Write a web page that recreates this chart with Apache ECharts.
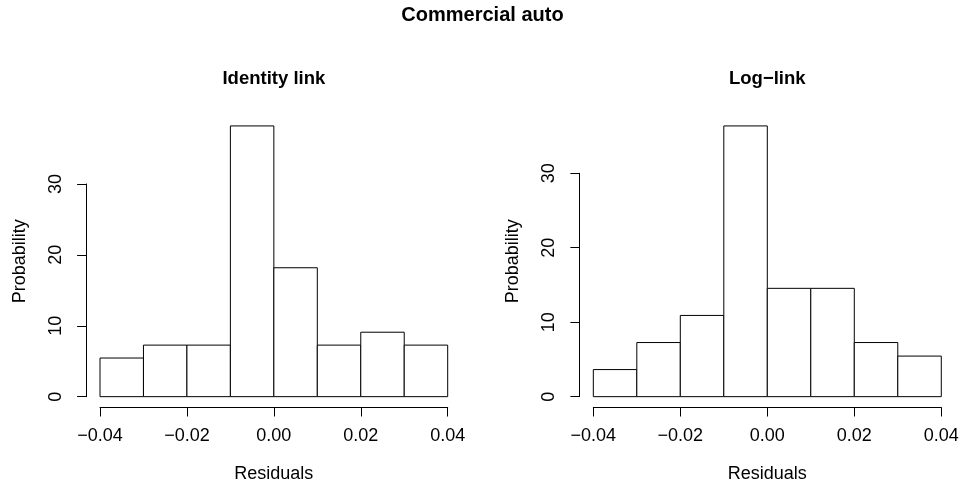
<!DOCTYPE html>
<html>
<head>
<meta charset="utf-8">
<script src="https://cdn.jsdelivr.net/npm/echarts@6/dist/echarts.min.js"></script>
<style>
  html, body { margin: 0; padding: 0; background: #ffffff; }
  #chart { width: 965px; height: 489px; }
</style>
</head>
<body>
<div id="chart"></div>
<script>
// Residual histogram bins (width 0.01)
const binEdges = [-0.04, -0.03, -0.02, -0.01, 0.00, 0.01, 0.02, 0.03, 0.04];
// Density in each bin for the identity-link model
const identityDensity = [5.45, 7.27, 7.27, 38.18, 18.18, 7.27, 9.09, 7.27];
// Density in each bin for the log-link model
const logDensity = [3.64, 7.27, 10.91, 36.36, 14.55, 14.55, 7.27, 5.45];
// Tick marks on both axes
const xTicks = [-0.04, -0.02, 0.00, 0.02, 0.04];
const yTicks = [0, 10, 20, 30];
const panelTitles = ['Identity link', 'Log\u2212link'];
const mainTitle = 'Commercial auto';
const xLabel = 'Residuals';
const yLabel = 'Probability';

const FONT = '"Liberation Sans", Arial, Helvetica, sans-serif';

// Plot regions of the two panels (pixels); axis limits are padded 4% like base R graphics
const regions = [
  { left: 86.1, right: 461.6, top: 115.1, bottom: 407.5 },
  { left: 579.4, right: 955.2, top: 115.1, bottom: 407.5 }
];
const PAD = 0.04;

const panels = [identityDensity, logDensity];

const grids = [], xAxes = [], yAxes = [], series = [], titles = [], graphics = [];

titles.push({
  text: mainTitle, left: 'center', top: 5, padding: 0,
  textStyle: { fontFamily: FONT, fontSize: 20, fontWeight: 'bold', color: '#000' }
});

const xMin = xTicks[0], xMax = xTicks[xTicks.length - 1];
const xStep = xTicks[1] - xTicks[0];
const yStep = yTicks[1] - yTicks[0];

panels.forEach((vals, i) => {
  const r = regions[i];
  const W = r.right - r.left, H = r.bottom - r.top;
  const padX = W * PAD / (1 + 2 * PAD);
  const padY = H * PAD / (1 + 2 * PAD);
  const yMax = Math.max.apply(null, vals);
  const pxPerUnit = (H - 2 * padY) / yMax;
  const yTop = yTicks[yTicks.length - 1];
  const zeroY = r.bottom - padY;

  grids.push({
    left: r.left + padX,
    width: W - 2 * padX,
    top: zeroY - yTop * pxPerUnit,
    height: yTop * pxPerUnit,
    containLabel: false
  });

  xAxes.push({
    type: 'value', gridIndex: i,
    min: xMin, max: xMax, interval: xStep,
    offset: padY,
    splitLine: { show: false },
    axisLine: { show: true, onZero: false, lineStyle: { color: '#000', width: 1 } },
    axisTick: { show: true, length: 9, lineStyle: { color: '#000', width: 1 } },
    axisLabel: {
      margin: 20, color: '#000', fontFamily: FONT, fontSize: 18,
      formatter: v => v.toFixed(2).replace('-', '\u2212')
    },
    name: xLabel, nameLocation: 'middle', nameGap: 58,
    nameTextStyle: { fontFamily: FONT, fontSize: 18, color: '#000' }
  });

  yAxes.push({
    type: 'value', gridIndex: i,
    min: yTicks[0], max: yTop, interval: yStep,
    offset: padX,
    splitLine: { show: false },
    axisLine: { show: true, onZero: false, lineStyle: { color: '#000', width: 1 } },
    axisTick: { show: true, length: 9, lineStyle: { color: '#000', width: 1 } },
    axisLabel: {
      rotate: 90, margin: 21, color: '#000', fontFamily: FONT, fontSize: 18
    }
  });

  const data = vals.map((v, k) => [binEdges[k], binEdges[k + 1], v]);
  series.push({
    type: 'custom', xAxisIndex: i, yAxisIndex: i,
    clip: false,
    data: data,
    renderItem: (params, api) => {
      const p0 = api.coord([api.value(0), 0]);
      const p1 = api.coord([api.value(1), api.value(2)]);
      return {
        type: 'rect',
        shape: { x: p0[0], y: p1[1], width: p1[0] - p0[0], height: p0[1] - p1[1] },
        style: { fill: '#ffffff', stroke: '#000000', lineWidth: 1 }
      };
    }
  });

  titles.push({
    text: panelTitles[i],
    left: (r.left + r.right) / 2, top: 69, padding: 0,
    textAlign: 'center',
    textStyle: { fontFamily: FONT, fontSize: 18.5, fontWeight: 'bold', color: '#000' }
  });

  graphics.push({
    type: 'text',
    x: r.left - 66, y: (r.top + r.bottom) / 2,
    rotation: Math.PI / 2,
    style: {
      text: yLabel, fontFamily: FONT, fontSize: 18, fill: '#000',
      align: 'center', verticalAlign: 'middle'
    }
  });
});

const chart = echarts.init(document.getElementById('chart'), null, { renderer: 'canvas' });
chart.setOption({
  backgroundColor: '#ffffff',
  animation: false,
  title: titles,
  grid: grids,
  xAxis: xAxes,
  yAxis: yAxes,
  series: series,
  graphic: graphics
});
</script>
</body>
</html>
